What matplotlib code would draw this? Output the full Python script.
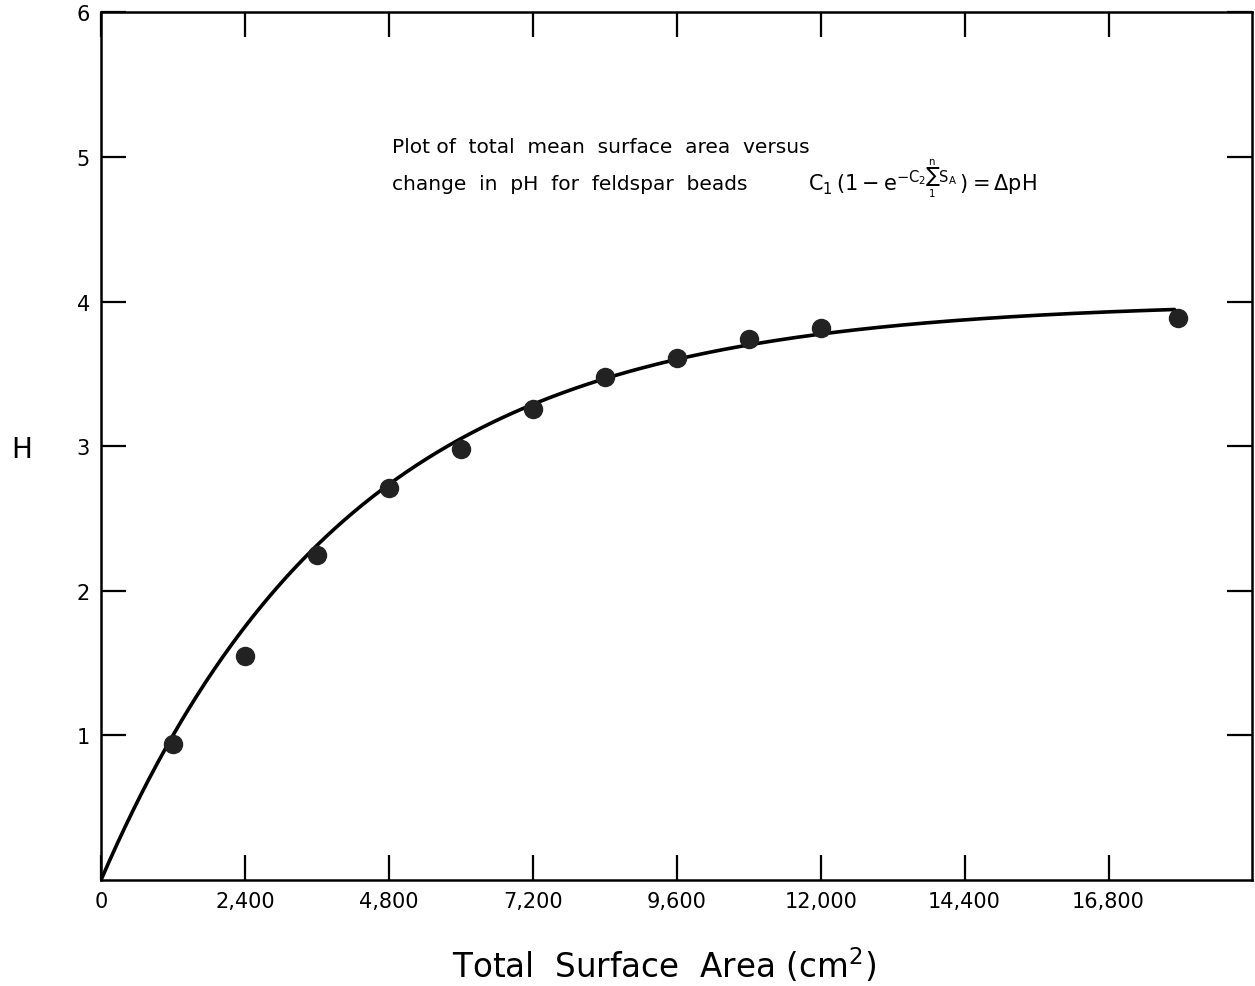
import numpy as np
import matplotlib
matplotlib.use("Agg")
import matplotlib.pyplot as plt

# measured points (total surface area, change in pH)
area = [1200, 2400, 3600, 4800, 6000, 7200, 8400, 9600, 10800, 12000, 17950]
dph = [0.94, 1.55, 2.25, 2.71, 2.98, 3.26, 3.48, 3.61, 3.74, 3.82, 3.89]

# fitted curve C1(1 - exp(-C2 * sum S_A))
c1 = 4.0
c2 = 2.4e-4
curve_end = 17900

x_ticks = [0, 2400, 4800, 7200, 9600, 12000, 14400, 16800]
x_labels = ["0", "2,400", "4,800", "7,200", "9,600", "12,000", "14,400", "16,800"]
y_ticks = [1, 2, 3, 4, 5, 6]

fig = plt.figure(figsize=(12.55, 9.87), dpi=100)
ax = fig.add_axes([0.0805, 0.1074, 0.9175, 0.879])

xs = np.linspace(0, curve_end, 400)
ax.plot(xs, c1 * (1 - np.exp(-c2 * xs)), color="black", lw=2.6, solid_capstyle="round")
ax.plot(area, dph, "o", color="#222222", ms=13, zorder=3)

ax.set_xlim(0, 19200)
ax.set_ylim(0, 6)
ax.set_xticks(x_ticks)
ax.set_xticklabels(x_labels, fontsize=15)
ax.set_yticks(y_ticks)
ax.set_yticklabels([str(v) for v in y_ticks], fontsize=15)
ax.tick_params(direction="in", length=18, width=1.6, top=True, right=True, pad=8)
for s in ax.spines.values():
    s.set_linewidth(1.8)

ax.text(0.2526, 0.845, "Plot of  total  mean  surface  area  versus", transform=ax.transAxes,
        fontsize=14.5, va="center", ha="left")
ax.text(0.2526, 0.803, "change  in  pH  for  feldspar  beads", transform=ax.transAxes,
        fontsize=14.5, va="center", ha="left")
ax.text(0.614, 0.809, r"$\mathrm{C_1\,(1-e^{-C_2\sum_{1}^{n}S_A}\,)=\Delta pH}$",
        transform=ax.transAxes, fontsize=15, va="center", ha="left")

fig.text(0.529, 0.022, "Total  Surface  Area (cm$^2$)", fontsize=23.5, ha="center", va="center")
fig.text(0.0175, 0.544, "H", fontsize=20, ha="center", va="center")

fig.savefig("out.png", dpi=100)
